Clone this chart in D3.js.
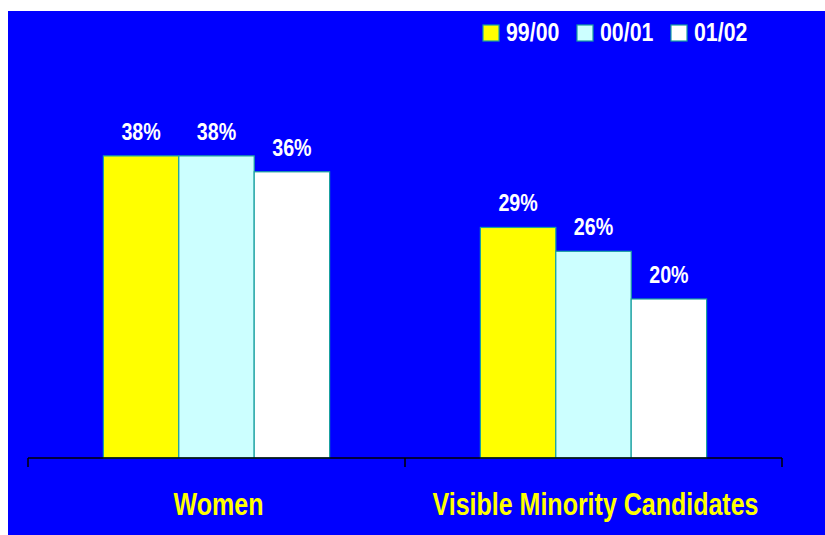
<!DOCTYPE html>
<html lang="en">
<head>
  <meta charset="utf-8">
  <title>Women and visible minority candidates</title>
  <script src="https://d3js.org/d3.v7.min.js"></script>
  <style>
    body { margin: 0; background: #fff; }
    text { font-family: "Liberation Sans", Arial, sans-serif; }
  </style>
</head>
<body>
  <script>
    var categories = ["Women", "Visible Minority Candidates"];
    var years = ["99/00", "00/01", "01/02"];
    var values9900 = [38, 29];
    var values0001 = [38, 26];
    var values0102 = [36, 20];
    var colors = ["#ffff00", "#ccffff", "#ffffff"];

    var W = 825, H = 535;
    var narrow = 0.82; // squeeze Arial-metric font to look like Arial Narrow

    var svg = d3.select("body").append("svg")
      .attr("width", W)
      .attr("height", H);

    // blue panel
    svg.append("rect")
      .attr("x", 8).attr("y", 11)
      .attr("width", W - 8).attr("height", H - 11)
      .attr("fill", "#0000ff");

    var series = [values9900, values0001, values0102];
    var data = [];
    categories.forEach(function (c, i) {
      years.forEach(function (yr, j) {
        data.push({ cat: c, year: yr, value: series[j][i], idx: j });
      });
    });

    var x0 = d3.scaleBand().domain(categories).range([28, 782]);
    var x1 = d3.scaleBand().domain(years).range([0, x0.bandwidth() * 0.6]);
    var groupOff = x0.bandwidth() * 0.2;
    var y = d3.scaleLinear().domain([0, 50]).range([458, 60.5]);

    svg.selectAll("rect.bar")
      .data(data)
      .enter()
      .append("rect")
      .attr("class", "bar")
      .attr("x", function (d) { return x0(d.cat) + groupOff + x1(d.year); })
      .attr("y", function (d) { return y(d.value); })
      .attr("width", x1.bandwidth())
      .attr("height", function (d) { return y(0) - y(d.value); })
      .attr("fill", function (d) { return colors[d.idx]; })
      .attr("stroke", "#1aa0a0")
      .attr("stroke-width", 1.2);

    svg.selectAll("g.val")
      .data(data)
      .enter()
      .append("g")
      .attr("class", "val")
      .attr("transform", function (d) {
        var cx = x0(d.cat) + groupOff + x1(d.year) + x1.bandwidth() / 2;
        return "translate(" + cx + "," + (y(d.value) - 16) + ") scale(" + narrow + ",1)";
      })
      .append("text")
      .attr("text-anchor", "middle")
      .attr("fill", "#fff")
      .attr("font-size", "24px")
      .attr("font-weight", "600")
      .text(function (d) { return d.value + "%"; });

    // x axis
    var axis = svg.append("g")
      .attr("transform", "translate(0,458)");
    axis.append("line")
      .attr("x1", 28).attr("x2", 782)
      .attr("y1", 0).attr("y2", 0)
      .attr("stroke", "#000").attr("stroke-width", 1.5);
    var bounds = categories.map(function (c) { return x0(c); }).concat([782]);
    axis.selectAll("line.tk")
      .data(bounds)
      .enter()
      .append("line")
      .attr("class", "tk")
      .attr("x1", function (d) { return d; }).attr("x2", function (d) { return d; })
      .attr("y1", 0).attr("y2", 9)
      .attr("stroke", "#000").attr("stroke-width", 1.5);

    svg.selectAll("g.cat")
      .data(categories)
      .enter()
      .append("g")
      .attr("class", "cat")
      .attr("transform", function (d) {
        return "translate(" + (x0(d) + x0.bandwidth() / 2 + 2) + ",515) scale(" + narrow + ",1)";
      })
      .append("text")
      .attr("text-anchor", "middle")
      .attr("fill", "#ffff00")
      .attr("font-size", "30.5px")
      .attr("font-weight", "bold")
      .text(function (d) { return d; });

    // legend
    var legX = [483, 577, 671];
    var legend = svg.selectAll("g.leg")
      .data(years)
      .enter()
      .append("g")
      .attr("class", "leg")
      .attr("transform", function (d, i) { return "translate(" + legX[i] + ",25)"; });
    legend.append("rect")
      .attr("width", 16).attr("height", 16)
      .attr("fill", function (d, i) { return colors[i]; })
      .attr("stroke", "#1aa0a0").attr("stroke-width", 1.2);
    legend.append("g")
      .attr("transform", "translate(23,15.5) scale(" + narrow + ",1)")
      .append("text")
      .attr("fill", "#fff")
      .attr("font-size", "26px")
      .attr("font-weight", "600")
      .text(function (d) { return d; });
  </script>
</body>
</html>
